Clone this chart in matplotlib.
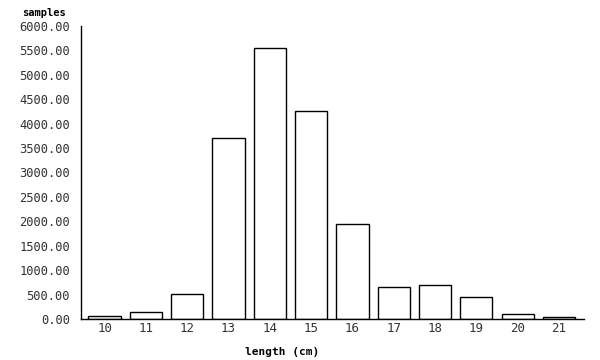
import matplotlib
matplotlib.use("Agg")
import matplotlib.pyplot as plt
import numpy as np

lengths = [10, 11, 12, 13, 14, 15, 16, 17, 18, 19, 20, 21]
samples = [60, 140, 520, 3700, 5550, 4250, 1950, 660, 690, 440, 100, 40]
yticks = [0, 500, 1000, 1500, 2000, 2500, 3000, 3500, 4000, 4500, 5000, 5500, 6000]

plt.rcParams['font.family'] = ['DejaVu Sans Mono']

fig = plt.figure(figsize=(6, 3.6), dpi=100)
ax = fig.add_axes([0.135, 0.114, 0.838, 0.814])

ax.bar(lengths, samples, width=0.78, facecolor='white', edgecolor='black', linewidth=1.0)

ax.set_xlim(9.43, 21.6)
ax.set_ylim(0, 6000)
ax.set_yticks(yticks)
ax.set_yticklabels([f"{v:.2f}" for v in yticks], fontsize=8.7, color='#333333')
ax.set_xticks(lengths)
ax.set_xticklabels([str(v) for v in lengths], fontsize=9, color='#333333')
ax.tick_params(axis='y', length=0, pad=8)
ax.tick_params(axis='x', length=0, pad=2.5)

for s in ['top', 'right']:
    ax.spines[s].set_visible(False)
ax.spines['left'].set_linewidth(1.0)
ax.spines['bottom'].set_linewidth(1.0)

fig.text(0.073, 0.963, 'samples', fontsize=7.5, fontweight='bold', ha='center', va='center')
fig.text(0.47, 0.022, 'length (cm)', fontsize=8, fontweight='bold', ha='center', va='center')

fig.savefig('out.png', dpi=100)
